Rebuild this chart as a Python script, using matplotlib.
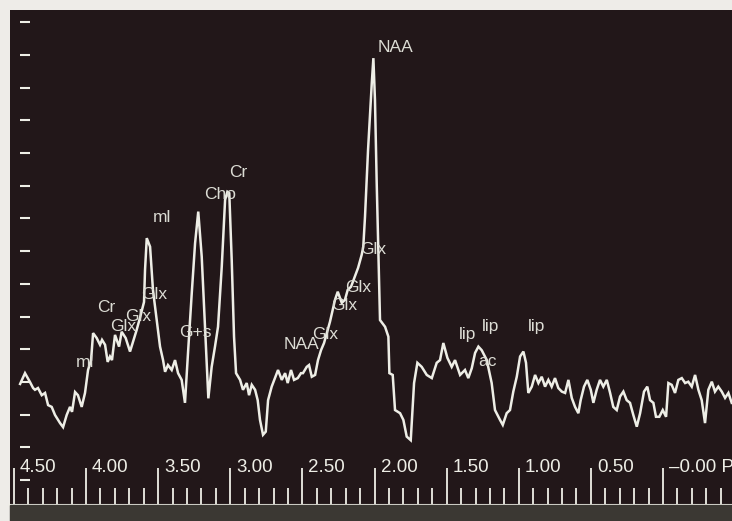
import numpy as np
import matplotlib
matplotlib.use("Agg")
import matplotlib.pyplot as plt
import matplotlib.transforms as mtransforms

plt.rcParams['font.family'] = ['Liberation Sans', 'DejaVu Sans']

# chemical shift (ppm) and signal (a.u.)
ppm = [4.457, 4.423, 4.388, 4.367, 4.354, 4.333, 4.307, 4.284, 4.263, 4.238,
       4.215, 4.180, 4.159, 4.134, 4.111, 4.097, 4.076, 4.056, 4.030, 4.007,
       3.986, 3.965, 3.951, 3.926, 3.903, 3.889, 3.868, 3.850, 3.834, 3.820,
       3.799, 3.771, 3.753, 3.725, 3.695, 3.674, 3.649, 3.626, 3.598, 3.591,
       3.579, 3.556, 3.536, 3.510, 3.487, 3.466, 3.452, 3.432, 3.406, 3.383,
       3.362, 3.337, 3.314, 3.293, 3.267, 3.244, 3.222, 3.198, 3.175, 3.152,
       3.129, 3.106, 3.085, 3.059, 3.036, 3.020, 3.007, 2.990, 2.974, 2.960,
       2.932, 2.912, 2.886, 2.870, 2.851, 2.828, 2.810, 2.794, 2.773, 2.754,
       2.738, 2.713, 2.690, 2.669, 2.643, 2.620, 2.602, 2.579, 2.558, 2.532,
       2.510, 2.496, 2.470, 2.454, 2.435, 2.412, 2.392, 2.371, 2.350, 2.331,
       2.309, 2.295, 2.274, 2.255, 2.227, 2.205, 2.186, 2.163, 2.135, 2.114,
       2.089, 2.078, 2.066, 2.045, 2.019, 2.008, 1.997, 1.985, 1.974, 1.962,
       1.927, 1.904, 1.897, 1.874, 1.858, 1.823, 1.800, 1.777, 1.749, 1.726,
       1.703, 1.673, 1.638, 1.603, 1.569, 1.546, 1.523, 1.495, 1.465, 1.442,
       1.407, 1.373, 1.350, 1.326, 1.303, 1.280, 1.257, 1.222, 1.188, 1.165,
       1.130, 1.111, 1.084, 1.061, 1.038, 1.014, 0.991, 0.968, 0.950, 0.934,
       0.910, 0.887, 0.864, 0.841, 0.818, 0.795, 0.772, 0.749, 0.726, 0.702,
       0.679, 0.656, 0.633, 0.610, 0.587, 0.571, 0.548, 0.525, 0.501, 0.483,
       0.460, 0.437, 0.414, 0.390, 0.367, 0.345, 0.321, 0.298, 0.275, 0.252,
       0.229, 0.206, 0.182, 0.159, 0.132, 0.109, 0.090, 0.067, 0.049, 0.026,
       0.002, -0.021, -0.037, -0.060, -0.083, -0.106, -0.130, -0.153, -0.175, -0.199,
       -0.222, -0.245, -0.268, -0.291, -0.314, -0.338, -0.360, -0.383, -0.407, -0.430,
       -0.453, -0.476]
signal = [26.9, 29.3, 27.3, 26.0, 25.6, 26.0, 24.4, 24.9, 22.2, 21.8,
          20.0, 18.2, 17.3, 20.0, 21.8, 20.7, 25.1, 24.4, 21.8, 24.9,
          30.0, 32.2, 38.2, 37.1, 35.6, 36.7, 35.6, 31.8, 33.0, 32.2,
          37.8, 35.2, 38.5, 37.1, 34.1, 36.3, 38.9, 41.6, 45.1, 52.2,
          59.3, 57.4, 47.8, 41.1, 35.2, 32.2, 29.6, 31.1, 30.0, 32.2,
          29.3, 27.8, 22.7, 33.8, 47.1, 58.2, 65.2, 55.2, 39.6, 23.7,
          30.7, 35.2, 39.6, 53.0, 67.8, 69.6, 69.3, 54.4, 37.4, 29.3,
          27.8, 25.6, 27.1, 24.4, 26.7, 25.6, 23.3, 18.9, 15.6, 16.3,
          23.3, 26.3, 28.2, 30.0, 27.8, 29.3, 27.1, 30.0, 27.8, 28.2,
          29.3, 29.3, 30.7, 31.1, 28.5, 28.9, 32.2, 34.4, 36.0, 38.2,
          40.7, 42.7, 45.6, 47.4, 44.9, 45.6, 47.8, 48.5, 50.9, 52.7,
          55.6, 57.4, 64.1, 78.9, 93.8, 99.3, 90.0, 71.6, 56.7, 41.1,
          39.6, 37.4, 29.3, 28.9, 21.1, 20.4, 18.9, 15.2, 14.4, 27.1,
          31.6, 30.7, 28.9, 28.2, 31.6, 32.2, 36.0, 32.7, 30.7, 32.2,
          28.9, 30.0, 28.2, 30.4, 33.8, 35.2, 34.4, 32.2, 27.1, 21.1,
          18.9, 17.8, 20.4, 21.1, 25.2, 28.5, 33.0, 34.1, 31.6, 24.9,
          26.3, 28.9, 27.1, 28.5, 26.3, 27.8, 26.3, 28.2, 26.0, 25.2,
          24.9, 27.8, 23.8, 21.8, 20.4, 23.3, 26.3, 27.8, 25.6, 22.7,
          25.6, 27.8, 26.3, 27.8, 24.9, 21.8, 21.1, 24.1, 25.2, 23.3,
          22.7, 20.0, 17.4, 20.4, 25.2, 26.3, 23.3, 22.7, 19.6, 19.6,
          21.1, 19.6, 27.1, 26.7, 24.9, 27.8, 28.2, 27.1, 27.4, 26.3,
          28.9, 25.6, 23.3, 18.2, 25.6, 27.4, 25.2, 26.3, 25.2, 23.8,
          24.9, 22.7]

# peak labels: text, ppm, signal (text centre)
peak_names = ["ml", "Cr", "Glx", "Glx", "Glx", "ml", "Cho", "Cr", "G+s",
              "NAA", "Glx", "Glx", "Glx", "Glx", "NAA", "lip", "lip", "ac", "lip"]
peak_ppm = [4.007, 3.861, 3.744, 3.640, 3.529, 3.473, 3.071, 2.946, 3.244,
            2.503, 2.343, 2.211, 2.114, 2.010, 1.858, 1.352, 1.199, 1.220, 0.880]
peak_sig = [31.6, 43.8, 39.6, 41.8, 46.7, 63.8, 68.9, 74.0, 38.4,
            35.6, 37.8, 44.4, 48.4, 56.7, 101.6, 37.8, 39.6, 31.8, 39.6]

major_ticks = [4.5, 4.0, 3.5, 3.0, 2.5, 2.0, 1.5, 1.0, 0.5, 0.0]
tick_labels = ["4.50", "4.00", "3.50", "3.00", "2.50", "2.00", "1.50", "1.00", "0.50", "\u20130.00 PPM"]
minor_ticks = np.round(np.arange(4.5, -0.45, -0.1), 2)

bg = "#221719"
fg = "#eeeee6"

fig = plt.figure(figsize=(7.32, 5.21), dpi=100, facecolor="#eeece8")
# grey strip under the scale
fig.patches.append(plt.Rectangle((10 / 732, 0), 1, 16 / 521, transform=fig.transFigure,
                                 color="#3b3833", zorder=0))
ax = fig.add_axes([10 / 732, 16 / 521, 722 / 732, 495 / 521])
ax.set_facecolor(bg)
ax.set_xlim(4.527, -0.478)
ax.set_ylim(0, 110)

ax.plot(ppm, signal, color=fg, lw=1.8, solid_joinstyle="miter")

for name, x, y in zip(peak_names, peak_ppm, peak_sig):
    ax.text(x, y, name, color="#dcdcd4", fontsize=12.5, ha="center", va="center")

for s in ["top", "left", "right"]:
    ax.spines[s].set_visible(False)
ax.spines["bottom"].set_color(fg)
ax.spines["bottom"].set_linewidth(1.5)

ax.set_xticks(major_ticks)
ax.set_xticks(minor_ticks, minor=True)
ax.set_xticklabels([])
ax.tick_params(axis="x", which="major", direction="in", length=26.5, width=1.3, color=fg)
ax.tick_params(axis="x", which="minor", direction="in", length=12, width=1.3, color=fg)
ax.set_yticks([])

offs = mtransforms.offset_copy(ax.get_xaxis_transform(), fig=fig, x=6, y=0, units="dots")
for x, lab in zip(major_ticks, tick_labels):
    ax.text(x, 0.075, lab, color=fg, fontsize=13.5, ha="left", va="center", transform=offs)

# short ruler dashes down the left edge
ruler = 107.3 - 7.27 * np.arange(16)
ax.hlines(ruler, 0.0139, 0.0277, transform=ax.get_yaxis_transform(), color=fg, lw=1.5,
          clip_on=False)

fig.savefig("out.png", dpi=100, facecolor=fig.get_facecolor())
